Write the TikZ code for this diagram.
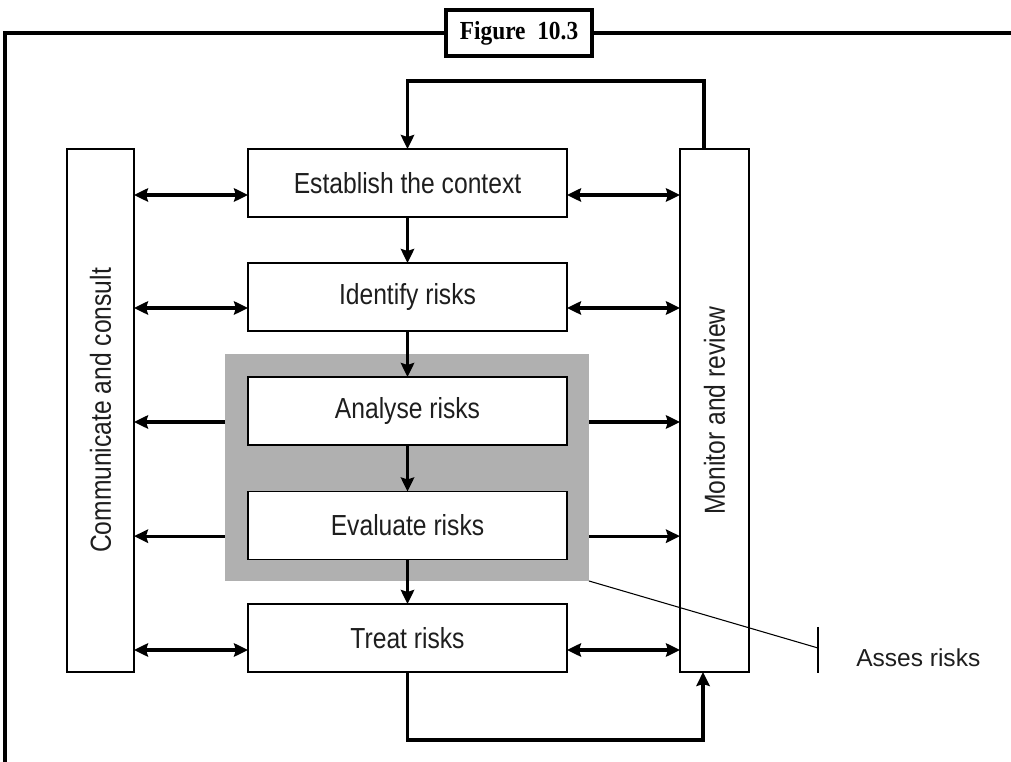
\documentclass[tikz,border=0pt]{standalone}
\usepackage{graphicx}
\usepackage{fontspec}
\setmainfont{Liberation Sans}
\newfontfamily\boxfont[FakeStretch=0.85]{Liberation Sans}
\newfontfamily\titlefont[FakeStretch=0.9]{Liberation Serif}
\usetikzlibrary{arrows.meta,calc}
\definecolor{shade}{RGB}{176,176,176}
\definecolor{ink}{RGB}{30,30,30}
\begin{document}
\begin{tikzpicture}[x=0.75pt,y=-0.75pt,
  box/.style={draw,line width=1.2pt,fill=white,inner sep=0pt,outer sep=0pt,text=ink,
    font=\boxfont\fontsize{21.75}{26}\selectfont},
  midbox/.style={box,minimum width=239.25pt,minimum height=51pt},
  sidebox/.style={box,minimum height=392.25pt},
  ar/.style={line width=2.4pt,-{Stealth[length=10.5pt,width=10pt,inset=1.5pt]}},
  dar/.style={line width=2.4pt,{Stealth[length=10.5pt,width=10pt,inset=1.5pt]}-{Stealth[length=10.5pt,width=10pt,inset=1.5pt]}},
  frame/.style={line width=2.3pt}]
\useasboundingbox (0,0) rectangle (1011,762);
% outer frame
\coordinate (fb) at (5,762);
\coordinate (ftl) at (5,33);
\coordinate (fr) at (1011,33);
\draw[frame] (fb) -- (ftl) -- (fr);
\node[draw,line width=2.3pt,fill=white,inner sep=0pt,minimum width=109.5pt,minimum height=34.5pt,
  font=\titlefont\bfseries\fontsize{19.5}{22}\selectfont] (title) at (519,33) {Figure\hspace{0.45em}10.3};
% grey assessment area
\node[fill=shade,inner sep=0pt,outer sep=0pt,minimum width=273pt,minimum height=170.25pt] (G) at (407,467.5) {};
% side boxes
\node[sidebox,minimum width=50.25pt] (L) at (100.5,410.5) {\rotatebox{90}{Communicate and consult}};
\node[sidebox,minimum width=51.75pt] (R) at (714.5,410.5) {\rotatebox{90}{Monitor and review}};
% process boxes
\node[midbox] (E) at (407.5,183) {Establish the context};
\node[midbox] (I) at (407.5,297) {Identify risks};
\node[midbox] (A) at (407.5,411) {Analyse risks};
\node[midbox] (V) at (407.5,525.5) {Evaluate risks};
\node[midbox] (T) at (407.5,638) {Treat risks};
% vertical flow
\draw[ar] (E.south) -- (I.north);
\draw[ar] (I.south) -- (A.north);
\draw[ar] (A.south) -- (V.north);
\draw[ar] (V.south) -- (T.north);
% two-way links
\foreach \n/\s in {E/-9pt,I/-8.25pt,T/-9pt}{
  \draw[dar] ([yshift=\s]\n.west -| L.east) -- ([yshift=\s]\n.west);
  \draw[dar] ([yshift=\s]\n.east) -- ([yshift=\s]\n.east -| R.west);
}
% one-way links from assessment area
\foreach \n/\s in {A/-8.25pt,V/-8pt}{
  \draw[ar] ([yshift=\s]\n.west -| G.west) -- ([yshift=\s]\n.west -| L.east);
  \draw[ar] ([yshift=\s]\n.east -| G.east) -- ([yshift=\s]\n.east -| R.west);
}
% feedback loops
\coordinate (tl) at (407.5,81);
\draw[ar] ([xshift=-7.9pt]R.north) |- (tl) -- (E.north);
\coordinate (bl) at (407.5,740);
\draw[ar] (T.south) -- (bl) -| ([xshift=-8.6pt]R.south);
% callout
\coordinate (tk) at (818,648);
\coordinate (tkt) at (818,627);
\coordinate (tkb) at (818,673);
\draw[line width=0.8pt] (G.south east) -- (tk);
\draw[line width=0.9pt] (tkt) -- (tkb);
\node[anchor=west,inner sep=0pt,text=ink,font=\fontsize{18.4}{22}\selectfont] (as) at (856,658) {Asses risks};
\end{tikzpicture}
\end{document}
